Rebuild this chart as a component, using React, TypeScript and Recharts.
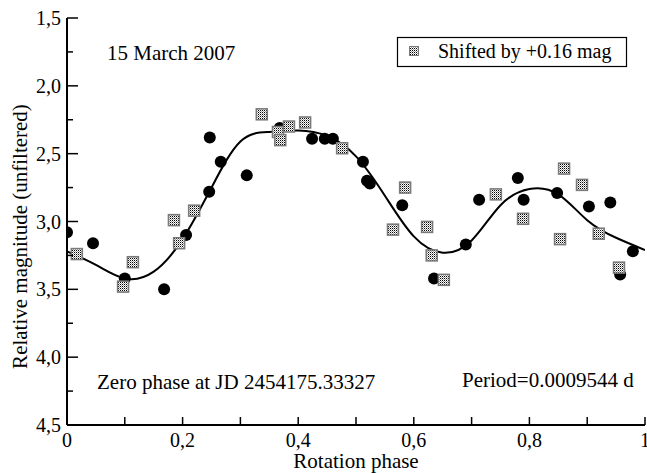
import {
  ComposedChart,
  Line,
  Scatter,
  XAxis,
  YAxis,
} from "recharts";

// filled circles (original photometry)
const circlePhase = [0, 0.045, 0.1, 0.168, 0.206, 0.246, 0.247, 0.266, 0.311, 0.368, 0.424, 0.446, 0.46, 0.512, 0.519, 0.524, 0.58, 0.635, 0.69, 0.713, 0.78, 0.79, 0.848, 0.903, 0.94, 0.957, 0.979];
const circleMag = [3.08, 3.16, 3.42, 3.5, 3.1, 2.78, 2.38, 2.56, 2.66, 2.31, 2.39, 2.39, 2.39, 2.56, 2.7, 2.72, 2.88, 3.42, 3.17, 2.84, 2.68, 2.84, 2.79, 2.89, 2.86, 3.39, 3.22];

// stippled squares (shifted by +0.16 mag)
const squarePhase = [0.017, 0.097, 0.114, 0.185, 0.194, 0.22, 0.337, 0.365, 0.369, 0.384, 0.412, 0.476, 0.564, 0.585, 0.623, 0.631, 0.652, 0.742, 0.789, 0.853, 0.86, 0.891, 0.92, 0.955];
const squareMag = [3.24, 3.48, 3.3, 2.99, 3.16, 2.92, 2.21, 2.34, 2.4, 2.3, 2.27, 2.46, 3.06, 2.75, 3.04, 3.25, 3.43, 2.8, 2.98, 3.13, 2.61, 2.73, 3.09, 3.34];

// fitted curve read at fixed phases
const fitPhase = [0, 0.05, 0.1, 0.15, 0.2, 0.25, 0.3, 0.35, 0.4, 0.45, 0.5, 0.55, 0.6, 0.65, 0.7, 0.75, 0.8, 0.85, 0.9, 0.95, 1];
const fitMag = [3.22, 3.32, 3.42, 3.37, 3.13, 2.75, 2.41, 2.34, 2.33, 2.37, 2.52, 2.81, 3.11, 3.23, 3.14, 2.88, 2.76, 2.8, 2.99, 3.12, 3.21];

const xTicks = [0, 0.1, 0.2, 0.3, 0.4, 0.5, 0.6, 0.7, 0.8, 0.9, 1];
const yTicks = [1.5, 1.75, 2, 2.25, 2.5, 2.75, 3, 3.25, 3.5, 3.75, 4, 4.25, 4.5];

const circles = circlePhase.map((x, i) => ({ x, y: circleMag[i] }));
const squares = squarePhase.map((x, i) => ({ x, y: squareMag[i] }));
const fit = fitPhase.map((x, i) => ({ x, y: fitMag[i] }));

const FONT = "'Liberation Serif', 'Times New Roman', serif";
const comma = (v: number) => (v === 0 || v === 1 ? String(v) : v.toFixed(1).replace(".", ","));
const isMajorX = (v: number) => Math.round(v * 10) % 2 === 0;
const isMajorY = (v: number) => Math.round(v * 4) % 2 === 0;

function BottomTick({ x, y, payload }: any) {
  const v = payload.value;
  return (
    <g>
      <line x1={x} y1={y} x2={x} y2={y - 8} stroke="#000" strokeWidth={1.5} />
      {isMajorX(v) && (
        <text x={x} y={y + 22} textAnchor="middle" fontSize={20} fontFamily={FONT} fill="#000">
          {comma(v)}
        </text>
      )}
    </g>
  );
}

function TopTick({ x, y }: any) {
  return <line x1={x} y1={y} x2={x} y2={y + 8} stroke="#000" strokeWidth={1.5} />;
}

function LeftTick({ x, y, payload }: any) {
  const v = payload.value;
  const len = isMajorY(v) ? 11 : 6;
  return (
    <g>
      <line x1={x} y1={y} x2={x + len} y2={y} stroke="#000" strokeWidth={1.5} />
      {isMajorY(v) && (
        <text x={x - 6} y={y + 7} textAnchor="end" fontSize={20} fontFamily={FONT} fill="#000">
          {v.toFixed(1).replace(".", ",")}
        </text>
      )}
    </g>
  );
}

function RightTick({ x, y }: any) {
  return <line x1={x} y1={y} x2={x - 10} y2={y} stroke="#000" strokeWidth={1.5} />;
}

function Dot({ cx, cy }: any) {
  return <circle cx={cx} cy={cy} r={6} fill="#000" />;
}

function Square({ cx, cy }: any) {
  return (
    <rect x={cx - 5.5} y={cy - 5.5} width={11} height={11} fill="url(#stipple)" stroke="#7a7a7a" strokeWidth={1.5} />
  );
}

export default function App() {
  return (
    <div style={{ position: "absolute", left: 0, top: 0, width: 647, height: 473, background: "#fff" }}>
      <svg width={0} height={0} style={{ position: "absolute" }}>
        <defs>
          <pattern id="stipple" width={2} height={2} patternUnits="userSpaceOnUse">
            <rect width={2} height={2} fill="#fff" />
            <rect width={1} height={1} fill="#000" />
            <rect x={1} y={1} width={1} height={1} fill="#999" />
          </pattern>
        </defs>
      </svg>
      <ComposedChart width={647} height={473} margin={{ top: 18, right: 2, bottom: 0, left: 0 }}>
        <XAxis
          xAxisId="b"
          dataKey="x"
          type="number"
          domain={[0, 1]}
          ticks={xTicks}
          interval={0}
          height={48}
          tickSize={0}
          tickMargin={0}
          tickLine={false}
          tick={<BottomTick />}
          axisLine={{ stroke: "#000", strokeWidth: 2 }}
          allowDataOverflow
          label={{
            content: ({ viewBox }: any) => (
              <text x={viewBox.x + viewBox.width / 2} y={viewBox.y + 43} textAnchor="middle" fontSize={21} fontFamily={FONT} fill="#000">
                Rotation phase
              </text>
            ),
          }}
        />
        <XAxis
          xAxisId="t"
          orientation="top"
          dataKey="x"
          type="number"
          domain={[0, 1]}
          ticks={xTicks}
          interval={0}
          height={0}
          tickSize={0}
          tickMargin={0}
          tickLine={false}
          tick={<TopTick />}
          axisLine={{ stroke: "#000", strokeWidth: 2 }}
          allowDataOverflow
        />
        <YAxis
          yAxisId="l"
          dataKey="y"
          type="number"
          domain={[1.5, 4.5]}
          reversed
          ticks={yTicks}
          interval={0}
          width={67}
          tickSize={0}
          tickMargin={0}
          tickLine={false}
          tick={<LeftTick />}
          axisLine={{ stroke: "#000", strokeWidth: 2 }}
          allowDataOverflow
          label={{
            content: ({ viewBox }: any) => (
              <text
                transform={`translate(${viewBox.x + 27}, ${viewBox.y + viewBox.height / 2 + 15}) rotate(-90)`}
                textAnchor="middle"
                fontSize={21}
                fontFamily={FONT}
                fill="#000"
              >
                Relative magnitude (unfiltered)
              </text>
            ),
          }}
        />
        <YAxis
          yAxisId="r"
          orientation="right"
          dataKey="y"
          type="number"
          domain={[1.5, 4.5]}
          reversed
          ticks={yTicks}
          interval={0}
          width={0}
          tickSize={0}
          tickMargin={0}
          tickLine={false}
          tick={<RightTick />}
          axisLine={{ stroke: "#000", strokeWidth: 2 }}
          allowDataOverflow
        />
        <Line
          xAxisId="b"
          yAxisId="l"
          data={fit}
          dataKey="y"
          type="natural"
          stroke="#000"
          strokeWidth={2}
          dot={false}
          isAnimationActive={false}
        />
        <Scatter xAxisId="b" yAxisId="l" data={circles} shape={<Dot />} isAnimationActive={false} />
        <Scatter xAxisId="b" yAxisId="l" data={squares} shape={<Square />} isAnimationActive={false} />
      </ComposedChart>
      <svg width={647} height={473} style={{ position: "absolute", left: 0, top: 0, pointerEvents: "none" }} fontFamily={FONT} fill="#000">
        <text x={107} y={60} fontSize={21}>15 March 2007</text>
        <text x={97} y={389} fontSize={21}>Zero phase at JD 2454175.33327</text>
        <text x={462} y={387} fontSize={21}>Period=0.0009544 d</text>
        <g>
          <rect x={397.5} y={37.5} width={229} height={29} fill="#fff" stroke="#000" strokeWidth={1.2} />
          <rect x={409.5} y={46.5} width={9} height={9} fill="url(#stipple)" stroke="#7a7a7a" strokeWidth={1} />
          <text x={438} y={58} fontSize={20}>Shifted by +0.16 mag</text>
        </g>
      </svg>
    </div>
  );
}
